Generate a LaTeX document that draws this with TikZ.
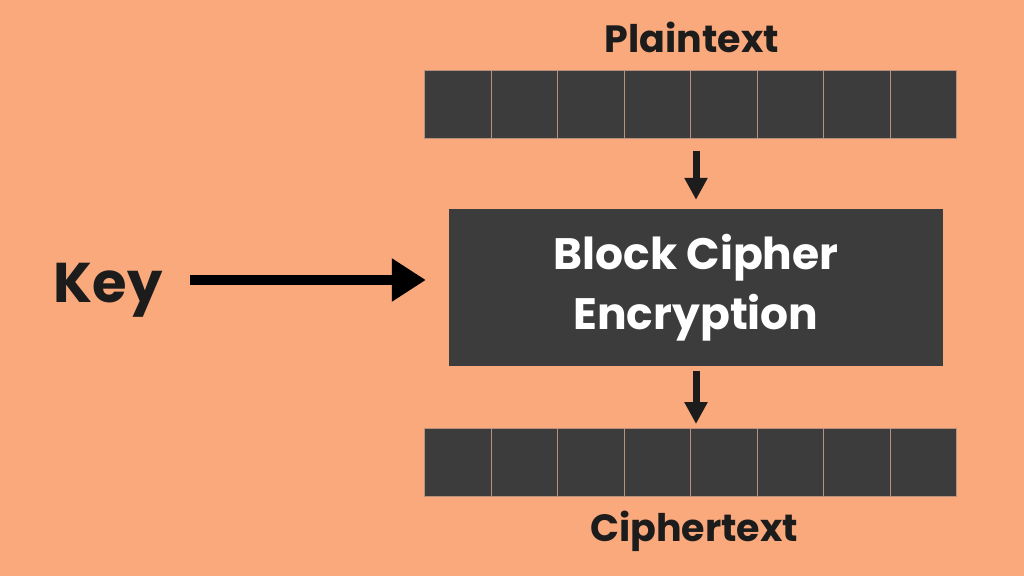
\documentclass[tikz,border=0pt]{standalone}
\usepackage{fontspec}
\setmainfont{Poppins}
\usetikzlibrary{arrows.meta}

\definecolor{peach}{HTML}{F9A97B}
\definecolor{slab}{HTML}{3C3C3C}
\definecolor{seam}{HTML}{B8917C}
\definecolor{ink}{HTML}{1C1C1C}

\tikzset{
  cell/.style={draw=seam, line width=1.2pt, fill=slab, minimum width=66.5pt,
    minimum height=67.5pt, inner sep=0pt, anchor=north west},
  word/.style={text=ink, inner sep=0pt, font=\bfseries\fontsize{38}{44}\selectfont},
  flow/.style={line width=7pt, ink, -{Triangle[width=22pt,length=22pt]}},
  keyflow/.style={line width=10pt, black, -{Triangle[width=41pt,length=34pt]}}
}

\begin{document}
\begin{tikzpicture}[x=1pt, y=-1pt]
  \fill[peach] (0,0) rectangle (1024,576);
  \useasboundingbox (0,0) rectangle (1024,576);

  \node[word, anchor=base] (plain) at (692,52) {Plaintext};
  \foreach \i in {0,...,7}
    \node[cell] (p\i) at ({424+66.5*\i},70) {};

  \node[fill=slab, minimum width=494pt, minimum height=157pt, inner sep=0pt,
    text=white, align=center, font=\bfseries\fontsize{44}{60}\selectfont]
    (enc) at (696,287.5) {Block Cipher\\Encryption};

  \foreach \i in {0,...,7}
    \node[cell] (c\i) at ({424+66.5*\i},428) {};
  \node[word, anchor=base] (ciph) at (694,541) {Ciphertext};

  \node[word, font=\bfseries\fontsize{56}{60}\selectfont, text height=44pt,
    text depth=0pt, anchor=east] (key) at (163,280) {Key};

  \draw[flow, shorten <=12pt, shorten >=9pt] (enc.north |- p4.south) -- (enc.north);
  \draw[flow, shorten <=5pt, shorten >=4pt] (enc.south) -- (enc.south |- c4.north);
  \draw[keyflow, shorten <=27pt, shorten >=23pt] (key.east) -- (key.east -| enc.west);
\end{tikzpicture}
\end{document}
